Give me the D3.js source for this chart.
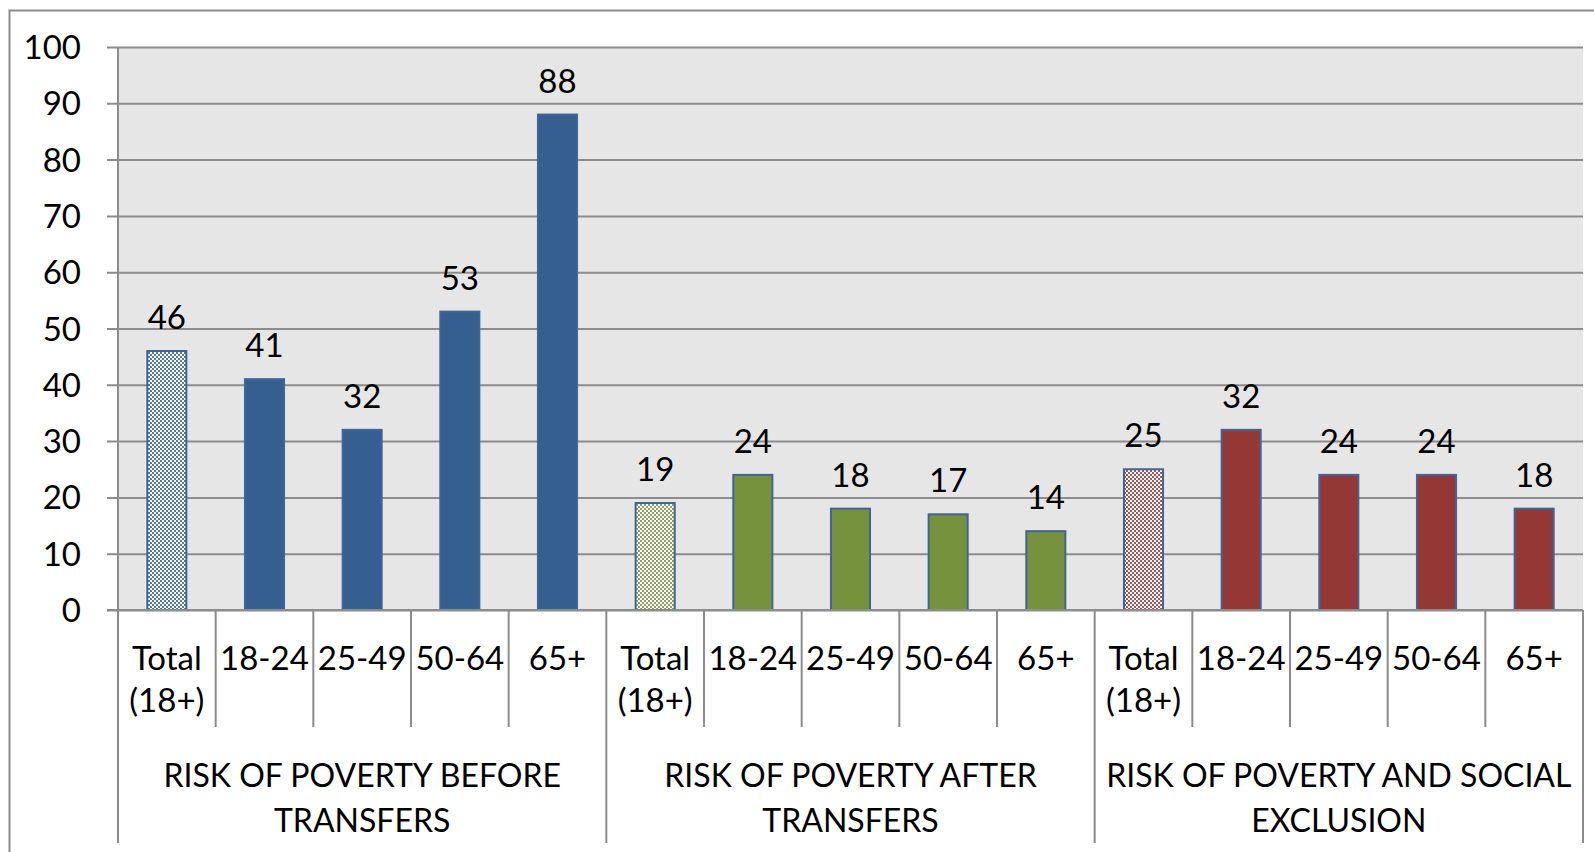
<!DOCTYPE html>
<html>
<head>
<meta charset="utf-8">
<script src="https://cdn.jsdelivr.net/npm/d3@7/dist/d3.min.js"></script>
<style>
  html, body { margin: 0; padding: 0; background: #fff; }
  svg { display: block; }
  text { font-family: Lato, "Open Sans", sans-serif; fill: #000; }
</style>
</head>
<body>
<svg id="chart" width="1594" height="852"></svg>
<script>
// Indicator groups and age bands along the category axis
const groups = [
  ["RISK OF POVERTY BEFORE", "TRANSFERS"],
  ["RISK OF POVERTY AFTER", "TRANSFERS"],
  ["RISK OF POVERTY AND SOCIAL", "EXCLUSION"]
];
const ageBands = [["Total", "(18+)"], ["18-24"], ["25-49"], ["50-64"], ["65+"]];

// Rates (%) per age band for each indicator
const beforeTransfers = [46, 41, 32, 53, 88];
const afterTransfers  = [19, 24, 18, 17, 14];
const socialExclusion = [25, 32, 24, 24, 18];

const yTicks = [0, 10, 20, 30, 40, 50, 60, 70, 80, 90, 100];

const seriesValues = [beforeTransfers, afterTransfers, socialExclusion];
const seriesColors = ["#355f91", "#76923c", "#953735"];

// Flatten into one row per bar
const rows = [];
seriesValues.forEach((vals, g) => {
  vals.forEach((v, i) => rows.push({ key: g + "-" + i, group: g, band: i, value: v }));
});

const svg = d3.select("#chart");
const plot = { left: 118, right: 1583, top: 47, bottom: 610 };

// Outer chart frame
svg.append("rect")
  .attr("x", 9.5).attr("y", 10.5)
  .attr("width", 1600).attr("height", 900)
  .attr("fill", "#fff").attr("stroke", "#8c8c8c").attr("stroke-width", 2);

const x = d3.scaleBand().domain(rows.map(d => d.key)).range([plot.left, plot.right]).padding(0);
const y = d3.scaleLinear().domain([0, 100]).range([plot.bottom, plot.top]);

// Plot background
svg.append("rect")
  .attr("x", plot.left).attr("y", plot.top)
  .attr("width", plot.right - plot.left).attr("height", plot.bottom - plot.top)
  .attr("fill", "#e6e6e6");

// Fill patterns for the "Total" bars
const defs = svg.append("defs");
seriesColors.forEach((c, g) => {
  const p = defs.append("pattern")
    .attr("id", "dots" + g)
    .attr("patternUnits", "userSpaceOnUse")
    .attr("width", 4).attr("height", 4);
  p.append("rect").attr("width", 4).attr("height", 4).attr("fill", "#fff");
  p.append("rect").attr("x", 0).attr("y", 0).attr("width", 2).attr("height", 2).attr("fill", c).attr("opacity", 0.85);
  p.append("rect").attr("x", 2).attr("y", 2).attr("width", 2).attr("height", 2).attr("fill", c).attr("opacity", 0.85);
});

// Y axis with gridlines
const yAxis = d3.axisLeft(y)
  .tickValues(yTicks)
  .tickSize(-(plot.right - plot.left) - 11)
  .tickPadding(26)
  .tickFormat(d3.format("d"));
const yg = svg.append("g")
  .attr("transform", `translate(${plot.right},0)`)
  .call(yAxis);
yg.select(".domain").remove();
yg.selectAll(".tick line").attr("stroke", "#8c8c8c").attr("stroke-width", 2)
  .attr("x1", 0).attr("x2", -(plot.right - plot.left) - 11);
yg.selectAll(".tick text")
  .attr("x", -(plot.right - plot.left) - 37)
  .attr("dy", "0.35em")
  .style("font-size", "33px")
  .style("font-family", "Lato, 'Open Sans', sans-serif")
  .attr("fill", "#000");

// Vertical axis line
svg.append("line")
  .attr("x1", plot.left).attr("x2", plot.left)
  .attr("y1", plot.top).attr("y2", 843)
  .attr("stroke", "#8c8c8c").attr("stroke-width", 2);

// Bars
const bw = x.bandwidth() * 0.4;
svg.append("g").selectAll("rect")
  .data(rows)
  .join("rect")
  .attr("x", d => x(d.key) + (x.bandwidth() - bw) / 2)
  .attr("y", d => y(d.value))
  .attr("width", bw)
  .attr("height", d => y(0) - y(d.value))
  .attr("fill", d => d.band === 0 ? `url(#dots${d.group})` : seriesColors[d.group])
  .attr("stroke", "#3f6596")
  .attr("stroke-width", 2);

// Value labels
svg.append("g").selectAll("text")
  .data(rows)
  .join("text")
  .attr("x", d => x(d.key) + x.bandwidth() / 2)
  .attr("y", d => y(d.value) - 22)
  .attr("text-anchor", "middle")
  .style("font-size", "33px")
  .text(d => d.value);

// Category axis baseline
svg.append("line")
  .attr("x1", plot.left - 11).attr("x2", plot.right)
  .attr("y1", plot.bottom).attr("y2", plot.bottom)
  .attr("stroke", "#8c8c8c").attr("stroke-width", 2);

// Separators between age bands and between groups
const boundaries = d3.range(1, rows.length + 1);
svg.append("g").selectAll("line")
  .data(boundaries)
  .join("line")
  .attr("x1", i => i < rows.length ? x(rows[i].key) : plot.right)
  .attr("x2", i => i < rows.length ? x(rows[i].key) : plot.right)
  .attr("y1", plot.bottom)
  .attr("y2", i => i % 5 === 0 ? 843 : 727)
  .attr("stroke", "#8c8c8c").attr("stroke-width", 2);

// Age band labels
const catLabels = svg.append("g").selectAll("text")
  .data(rows)
  .join("text")
  .attr("x", d => x(d.key) + x.bandwidth() / 2)
  .attr("y", 670)
  .attr("text-anchor", "middle")
  .style("font-size", "33px");
catLabels.each(function(d) {
  const lines = ageBands[d.band];
  d3.select(this).selectAll("tspan")
    .data(lines)
    .join("tspan")
    .attr("x", x(d.key) + x.bandwidth() / 2)
    .attr("dy", (l, i) => i === 0 ? 0 : 42)
    .text(l => l);
});

// Group labels
svg.append("g").selectAll("text")
  .data(groups)
  .join("text")
  .attr("text-anchor", "middle")
  .attr("y", 787)
  .style("font-size", "32px")
  .each(function(lines, g) {
    const cx = (x(g + "-0") + x(g + "-4") + x.bandwidth()) / 2;
    d3.select(this).selectAll("tspan")
      .data(lines)
      .join("tspan")
      .attr("x", cx)
      .attr("dy", (l, i) => i === 0 ? 0 : 45)
      .text(l => l);
  });
</script>
</body>
</html>
